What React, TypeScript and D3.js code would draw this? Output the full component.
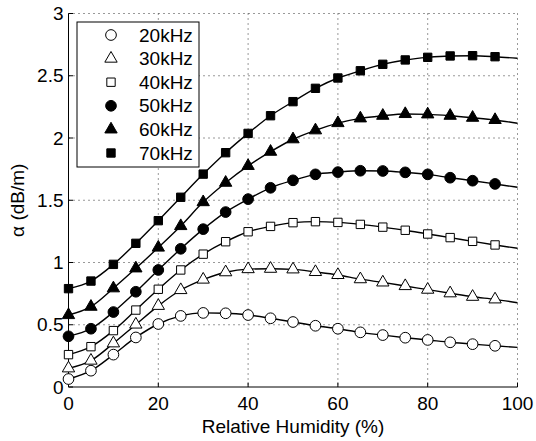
import * as d3 from 'd3'
import React from 'react'

const humidity = [0, 5, 10, 15, 20, 25, 30, 35, 40, 45, 50, 55, 60, 65, 70, 75, 80, 85, 90, 95]
const lineEndX = 100

const f20 = [0.064, 0.131, 0.26, 0.398, 0.506, 0.571, 0.595, 0.592, 0.578, 0.552, 0.522, 0.492, 0.468, 0.439, 0.417, 0.396, 0.378, 0.359, 0.344, 0.331]
const f30 = [0.15, 0.212, 0.351, 0.502, 0.652, 0.779, 0.863, 0.922, 0.947, 0.95, 0.945, 0.924, 0.9, 0.866, 0.84, 0.811, 0.782, 0.753, 0.725, 0.704]
const f40 = [0.26, 0.324, 0.453, 0.618, 0.785, 0.94, 1.067, 1.167, 1.247, 1.29, 1.32, 1.328, 1.322, 1.306, 1.284, 1.259, 1.229, 1.2, 1.17, 1.141]
const f50 = [0.407, 0.468, 0.602, 0.765, 0.94, 1.11, 1.268, 1.405, 1.509, 1.6, 1.66, 1.708, 1.726, 1.737, 1.735, 1.724, 1.708, 1.681, 1.657, 1.631]
const f60 = [0.578, 0.645, 0.793, 0.953, 1.12, 1.293, 1.485, 1.641, 1.776, 1.89, 1.99, 2.062, 2.12, 2.158, 2.179, 2.193, 2.19, 2.179, 2.163, 2.145]
const f70 = [0.79, 0.851, 0.985, 1.154, 1.336, 1.524, 1.71, 1.882, 2.037, 2.179, 2.292, 2.399, 2.482, 2.54, 2.592, 2.627, 2.648, 2.659, 2.661, 2.653]
// curve value at RH = 100 (no marker there)
const lineEnd = [0.318, 0.677, 1.114, 1.604, 2.118, 2.64]

const labels = ['20kHz', '30kHz', '40kHz', '50kHz', '60kHz', '70kHz']
const markers = ['circle', 'triangle', 'square', 'circle', 'triangle', 'square']
const filled = [false, false, false, true, true, true]
const seriesValues = [f20, f30, f40, f50, f60, f70]

const xTicks = [0, 20, 40, 60, 80, 100]
const yTicks = [0, 0.5, 1, 1.5, 2, 2.5, 3]

const W = 536
const H = 441
const margin = { top: 13.5, right: 18.5, bottom: 54, left: 68.5 }
const font = '"Liberation Sans", Arial, Helvetica, sans-serif'

const symbolPath = (kind: string) => {
    if (kind === 'circle') return d3.symbol(d3.symbolCircle, 90)()
    if (kind === 'square') return d3.symbol(d3.symbolSquare, 70)()
    return d3.symbol(d3.symbolTriangle, 66)()
}

const App = () => {
    const innerW = W - margin.left - margin.right
    const innerH = H - margin.top - margin.bottom
    const x = d3.scaleLinear().domain([0, 100]).range([0, innerW])
    const y = d3.scaleLinear().domain([0, 3]).range([innerH, 0])

    const line = d3.line<[number, number]>()
        .x(d => x(d[0]))
        .y(d => y(d[1]))
        .curve(d3.curveMonotoneX)

    const series = seriesValues.map((vals, i) => ({
        label: labels[i],
        marker: markers[i],
        filled: filled[i],
        points: humidity.map((h, j) => [h, vals[j]] as [number, number]),
        curve: [...humidity.map((h, j) => [h, vals[j]] as [number, number]), [lineEndX, lineEnd[i]] as [number, number]]
    }))

    const legend = { x: 77, y: 22, w: 122, h: 145, rowStart: 35, rowStep: 23.6 }

    return (
        <svg width={W} height={H} style={{ position: 'absolute', left: 0, top: 0, background: '#fff' }} fontFamily={font}>
            <rect width={W} height={H} fill='#fff' />
            <g transform={`translate(${margin.left},${margin.top})`}>
                {/* grid */}
                {xTicks.filter(t => t !== 0).map(t => (
                    <line key={'gx' + t} x1={x(t)} x2={x(t)} y1={0} y2={innerH} stroke='#333' strokeWidth={1} strokeDasharray='1,4' />
                ))}
                {yTicks.filter(t => t !== 0).map(t => (
                    <line key={'gy' + t} x1={0} x2={innerW} y1={y(t)} y2={y(t)} stroke='#333' strokeWidth={1} strokeDasharray='1,4' />
                ))}
                {/* axes */}
                <line x1={0} x2={innerW} y1={innerH} y2={innerH} stroke='#000' strokeWidth={1} />
                <line x1={0} x2={0} y1={0} y2={innerH} stroke='#000' strokeWidth={1} />
                {xTicks.map(t => (
                    <g key={'tx' + t} transform={`translate(${x(t)},${innerH})`}>
                        <line y1={0} y2={-4.5} stroke='#000' />
                        <text y={23} textAnchor='middle' fontSize={19}>{t}</text>
                    </g>
                ))}
                {yTicks.map(t => (
                    <g key={'ty' + t} transform={`translate(0,${y(t)})`}>
                        <line x1={0} x2={4.5} stroke='#000' />
                        <text x={-5} dy='0.35em' textAnchor='end' fontSize={19}>{t}</text>
                    </g>
                ))}
                {/* curves and markers */}
                {series.map(s => (
                    <g key={s.label}>
                        <path d={line(s.curve) || ''} fill='none' stroke='#000' strokeWidth={1.4} />
                        {s.points.map(p => (
                            <path key={p[0]} d={symbolPath(s.marker) || ''} transform={`translate(${x(p[0])},${y(p[1])})`}
                                fill={s.filled ? '#000' : '#fff'} stroke='#000' strokeWidth={1} />
                        ))}
                    </g>
                ))}
            </g>
            {/* legend */}
            <g transform={`translate(${legend.x},${legend.y})`}>
                <rect width={legend.w} height={legend.h} fill='#fff' stroke='#000' strokeWidth={1} />
                {series.map((s, i) => {
                    const cy = legend.rowStart - legend.y + i * legend.rowStep
                    return (
                        <g key={'lg' + s.label}>
                            <path d={symbolPath(s.marker) || ''} transform={`translate(${111 - legend.x},${cy})`}
                                fill={s.filled ? '#000' : '#fff'} stroke='#000' strokeWidth={1} />
                            <text x={139 - legend.x} y={cy} dy='0.35em' fontSize={19}>{s.label}</text>
                        </g>
                    )
                })}
            </g>
            {/* axis titles */}
            <text x={margin.left + (W - margin.left - margin.right) / 2} y={433} textAnchor='middle' fontSize={19}>Relative Humidity (%)</text>
            <text transform={`translate(24,${margin.top + (H - margin.top - margin.bottom) / 2}) rotate(-90)`} textAnchor='middle' fontSize={19}>α (dB/m)</text>
        </svg>
    )
}

export default App
